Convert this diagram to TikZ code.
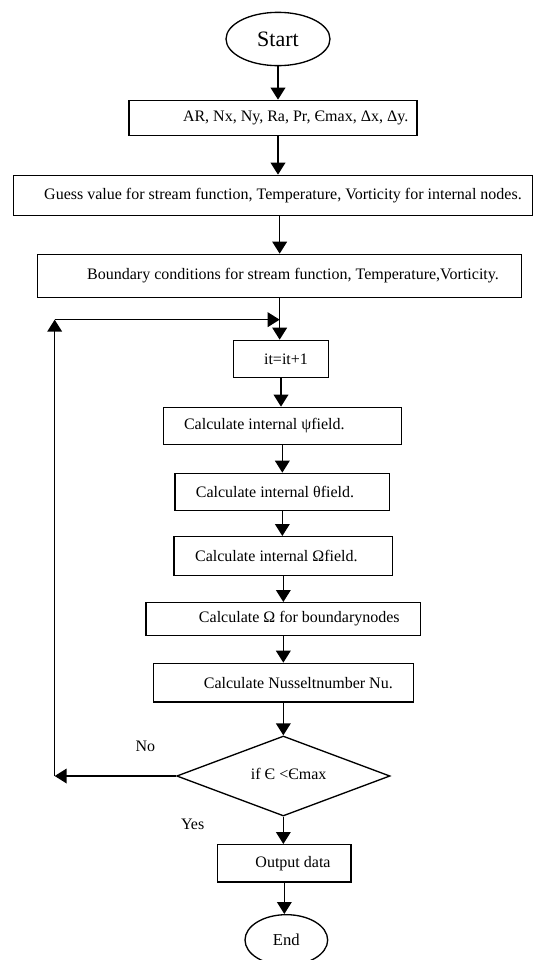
\documentclass[tikz,border=0pt]{standalone}
\usepackage{fontspec}
\setmainfont{Liberation Serif}
\usetikzlibrary{arrows.meta, positioning, shapes.geometric}

\begin{document}
\begin{tikzpicture}[
    term/.style={ellipse, draw, line width=1pt, inner sep=0pt, minimum width=78pt,
      minimum height=40pt, font=\fontsize{16.5}{18}\selectfont},
    proc/.style={rectangle, draw, line width=1pt, inner sep=0pt, minimum height=28pt,
      align=center, font=\fontsize{12}{14}\selectfont},
    dec/.style={diamond, draw, line width=1pt, inner sep=0pt, aspect=2.64, minimum width=160pt,
      minimum height=60pt, font=\fontsize{12}{14}\selectfont},
    ar/.style={-{Triangle[length=9pt, width=11pt]}, line width=1.1pt},
    tag/.style={font=\fontsize{12}{14}\selectfont}]
    \useasboundingbox (0,0) rectangle (399.75pt,-720pt);
    \node[term] (start) at (208.5pt,-29.25pt) {Start};
    \node[proc, minimum width=216pt, minimum height=26.5pt, below=25pt of start, xshift=-3.75pt] (inp) {\hspace*{34pt}AR, Nx, Ny, Ra, Pr, Єmax, Δx, Δy.};
    \node[proc, minimum width=389pt, minimum height=30pt, below=28.75pt of inp] (guess) {\hspace*{15pt}Guess value for stream function, Temperature, Vorticity for internal nodes.};
    \node[proc, minimum width=363pt, minimum height=32.5pt, below=28.25pt of guess, xshift=5pt] (bc) {\hspace*{20pt}Boundary conditions for stream function, Temperature,Vorticity.};
    \node[proc, minimum width=71pt, below=31pt of bc, xshift=1pt] (it) {\hspace*{7.5pt}it=it+1};
    \node[proc, minimum width=178.5pt, below=21.25pt of it, xshift=1pt] (psi) {Calculate internal ψfield.\hspace*{27pt}};
    \node[proc, minimum width=161pt, below=20.5pt of psi] (theta) {Calculate internal θfield.\hspace*{11pt}};
    \node[proc, minimum width=164pt, minimum height=29pt, below=18.5pt of theta, xshift=0.75pt] (omega) {Calculate internal Ωfield.\hspace*{10.5pt}};
    \node[proc, minimum width=206pt, minimum height=24.5pt, below=19.5pt of omega] (bnd) {\hspace*{24pt}Calculate Ω for boundarynodes};
    \node[proc, minimum width=195pt, minimum height=29pt, below=20pt of bnd] (nu) {\hspace*{22.5pt}Calculate Nusseltnumber Nu.};
    \node[dec, below=24.5pt of nu] (chk) {\hspace*{8pt}\raisebox{3pt}{if Є <Єmax}};
    \node[proc, minimum width=100pt, below=20.5pt of chk, xshift=0.75pt] (out) {\hspace*{13pt}Output data};
    \node[term, minimum width=62pt, minimum height=38pt, font=\fontsize{12.5}{14}\selectfont, below=23.5pt of out, xshift=1.5pt] (end) {End};
    \draw[ar] (start) -- (start |- inp.north);
    \draw[ar] (inp.south -| start) -- (start |- guess.north);
    \draw[ar] (guess.south -| bc) -- (bc.north);
    \draw[ar] (bc.south) -- (bc.south |- it.north);
    \draw[ar] (it.south) -- (it.south |- psi.north);
    \draw[ar] (psi.south) -- (psi.south |- theta.north);
    \draw[ar] (theta.south) -- (theta.south |- omega.north);
    \draw[ar] (omega.south) -- (omega.south |- bnd.north);
    \draw[ar] (bnd.south) -- (bnd.south |- nu.north);
    \draw[ar] (nu.south) -- (nu.south |- chk.north);
    \draw[ar] (chk.south) -- (chk.south |- out.north);
    \draw[ar] (out.south) -- (out.south |- end.north);
    % loop back
    \coordinate (noend) at ([xshift=-91pt]chk.west);
    \coordinate (loopin) at ([yshift=-16pt]bc.south);
    \coordinate (loopup) at (noend |- loopin);
    \draw[ar] (chk.west) -- (noend);
    \draw[ar] (noend) -- (loopup);
    \draw[ar] (loopup) -- (loopin);
    \node[tag] (no) at ([xshift=-23pt, yshift=22.5pt]chk.west) {No};
    \node[tag] (yes) at ([xshift=-68pt, yshift=-6pt]chk.south) {Yes};
\end{tikzpicture}
\end{document}
